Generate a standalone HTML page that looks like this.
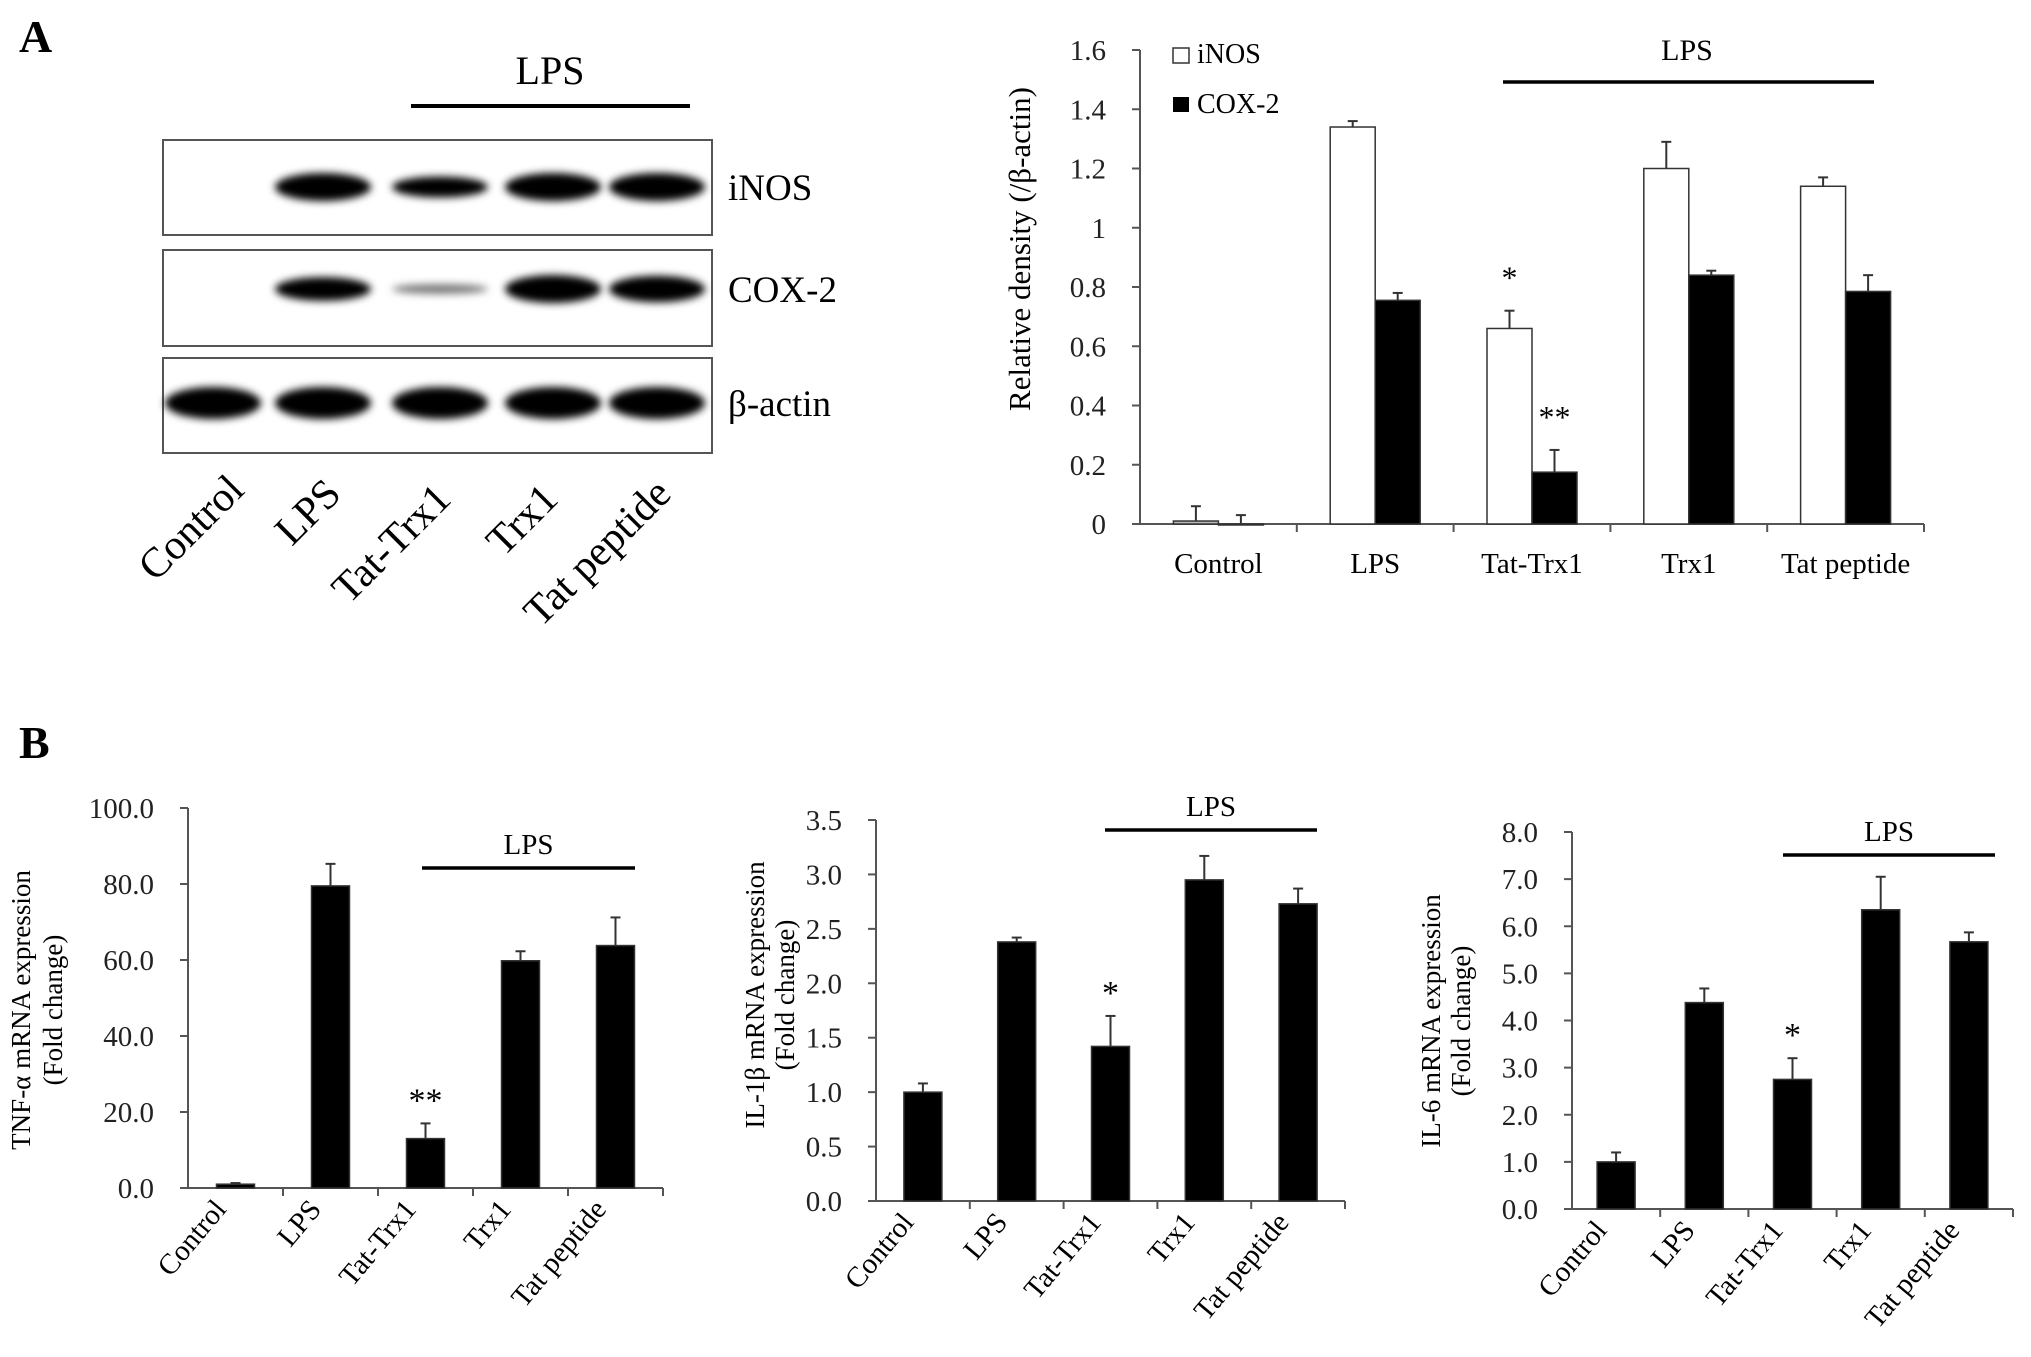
<!DOCTYPE html>
<html><head><meta charset="utf-8"><style>
html,body{margin:0;padding:0;background:#fff;}
svg{display:block;font-family:"Liberation Serif",serif;}
</style></head><body>
<svg id="fig" width="2031" height="1357" viewBox="0 0 2031 1357" xmlns="http://www.w3.org/2000/svg">
<defs>
<filter id="blur" x="-30%" y="-80%" width="160%" height="260%"><feGaussianBlur stdDeviation="4"/></filter>
</defs>
<text x="19" y="52" font-size="46" font-weight="bold">A</text>
<text x="19" y="758" font-size="46" font-weight="bold">B</text>
<g id="blot"></g>
<g id="chartA"></g>
<g id="chartTNF"></g>
<g id="chartIL1"></g>
<g id="chartIL6"></g>
</svg>
<script>
const categories = ["Control","LPS","Tat-Trx1","Trx1","Tat peptide"];
const inosValues = [0.01,1.34,0.66,1.2,1.14];
const inosErrors = [0.05,0.02,0.06,0.09,0.03];
const coxValues = [0.0,0.755,0.175,0.84,0.785];
const coxErrors = [0.03,0.025,0.075,0.015,0.055];
const aTicks = ["0","0.2","0.4","0.6","0.8","1","1.2","1.4","1.6"];
const tnfValues = [1.0,79.5,13,59.8,63.8];
const tnfErrors = [0.3,5.8,4,2.5,7.4];
const tnfTicks = ["0.0","20.0","40.0","60.0","80.0","100.0"];
const il1Values = [1.0,2.38,1.42,2.95,2.73];
const il1Errors = [0.08,0.04,0.28,0.22,0.14];
const il1Ticks = ["0.0","0.5","1.0","1.5","2.0","2.5","3.0","3.5"];
const il6Values = [1.0,4.38,2.75,6.35,5.67];
const il6Errors = [0.2,0.3,0.45,0.7,0.2];
const il6Ticks = ["0.0","1.0","2.0","3.0","4.0","5.0","6.0","7.0","8.0"];
const inosBands = [0,1,0.75,1,1];
const coxBands = [0,0.85,0.35,1,0.95];
const actinBands = [1,1,1,1,1];

const NS="http://www.w3.org/2000/svg";
function mk(parent,tag,attrs,text){const e=document.createElementNS(NS,tag);for(const k in attrs)e.setAttribute(k,attrs[k]);if(text!==undefined)e.textContent=text;parent.appendChild(e);return e;}

(function(){
 const g=document.getElementById('blot');
 const lanes=[213,323,440,553,657];
 const boxes=[[140,235,187,inosBands,'iNOS'],[250,346,289,coxBands,'COX-2'],[358,453,403,actinBands,'β-actin']];
 boxes.forEach((b,bi)=>{
  const r=mk(g,'rect',{x:163,y:b[0],width:549,height:b[1]-b[0],fill:'#fff',stroke:'#555','stroke-width':2});
  
  
  b[3].forEach((v,i)=>{
   if(v<=0)return;
   const e=mk(g,'ellipse',{cx:lanes[i],cy:b[2],rx:48,ry:14*v+(bi==2?2:0),fill:v<0.5?'#777':'#000',filter:'url(#blur)'});
   
   
  });
  const t=mk(g,'text',{x:728,y:b[2]+13,'font-size':37},b[4]);
  
  
 });
 const l=mk(g,'line',{x1:411,y1:106,x2:690,y2:106,stroke:'#000','stroke-width':4});
 
 
 const lt=mk(g,'text',{x:550,y:84,'font-size':40,'text-anchor':'middle'},'LPS');
 
 
 const ends=[[246,492],[343,496],[453,501],[560,501],[673,496]];
 categories.forEach((c,i)=>{
  const t=mk(g,'text',{x:ends[i][0],y:ends[i][1],'font-size':42,'text-anchor':'end',transform:`rotate(-45 ${ends[i][0]} ${ends[i][1]})`},c);
  
  
 });
})();

function drawAxes(g,o){
 const ys=v=>o.y0-(v/o.max)*(o.y0-o.yTop);
 const ax=mk(g,'line',{x1:o.x0,y1:o.yTop,x2:o.x0,y2:o.y0,stroke:'#555','stroke-width':2});
 
 
 const bx=mk(g,'line',{x1:o.x0,y1:o.y0,x2:o.x1,y2:o.y0,stroke:'#555','stroke-width':2});
 
 
 const n=o.ticks.length-1;
 o.ticks.forEach((t,i)=>{
  const v=o.max*i/n, y=ys(v);
  mk(g,'line',{x1:o.x0-8,y1:y,x2:o.x0,y2:y,stroke:'#555','stroke-width':2});
  const tx=mk(g,'text',{x:o.x0-34,y:y+10,'font-size':o.fs,'text-anchor':'end',fill:'#222'},t);
  
  
 });
 const gw=(o.x1-o.x0)/categories.length;
 for(let i=1;i<=categories.length;i++){mk(g,'line',{x1:o.x0+gw*i,y1:o.y0,x2:o.x0+gw*i,y2:o.y0+8,stroke:'#555','stroke-width':2});}
 return {ys,gw};
}
function bar(g,x,w,y0,yv,fill,name){
 const r=mk(g,'rect',{x:x,y:Math.min(yv,y0),width:w,height:Math.max(Math.abs(y0-yv),1),fill:fill,stroke:'#333','stroke-width':1.5});
 
 
}
function err(g,cx,yv,ye){
 mk(g,'line',{x1:cx,y1:yv,x2:cx,y2:ye,stroke:'#333','stroke-width':2});
 mk(g,'line',{x1:cx-5,y1:ye,x2:cx+5,y2:ye,stroke:'#333','stroke-width':2});
}

(function(){
 const g=document.getElementById('chartA');
 const o={x0:1140,x1:1924,y0:524,yTop:50,max:1.6,ticks:aTicks,fs:29};
 const {ys,gw}=drawAxes(g,o);
 const bw=45;
 categories.forEach((c,i)=>{
  const cx=o.x0+gw*(i+0.5);
  const ctrl=i===0;
  bar(g,cx-bw,bw,o.y0,ys(inosValues[i]),ctrl?'#bbb':'#fff','bar-inos');
  err(g,cx-bw/2,ys(inosValues[i]),ys(inosValues[i]+inosErrors[i]));
  bar(g,cx,bw,o.y0,ys(coxValues[i]),ctrl?'#bbb':'#000','bar-cox2');
  err(g,cx+bw/2,ys(coxValues[i]),ys(coxValues[i]+coxErrors[i]));
  const t=mk(g,'text',{x:cx,y:573,'font-size':29,'text-anchor':'middle'},c);
  
  
 });
 const cx2=o.x0+gw*2.5;
 mk(g,'text',{x:cx2-bw/2,y:ys(inosValues[2]+inosErrors[2])-22,'font-size':32,'text-anchor':'middle'},'*');
 mk(g,'text',{x:cx2+bw/2,y:ys(coxValues[2]+coxErrors[2])-22,'font-size':32,'text-anchor':'middle'},'**');
 const yt=mk(g,'text',{x:1030,y:249,'font-size':31,'text-anchor':'middle',transform:'rotate(-90 1030 249)'},'Relative density (/β-actin)');
 
 
 const s1=mk(g,'rect',{x:1173,y:48,width:16,height:15,fill:'#fff',stroke:'#333','stroke-width':1.5});
 
 
 mk(g,'text',{x:1197,y:63,'font-size':28},'iNOS');
 const s2=mk(g,'rect',{x:1173,y:97,width:16,height:15,fill:'#000'});
 
 
 mk(g,'text',{x:1197,y:113,'font-size':28},'COX-2');
 mk(g,'text',{x:1687,y:60,'font-size':30,'text-anchor':'middle'},'LPS');
 mk(g,'line',{x1:1503,y1:82,x2:1874,y2:82,stroke:'#000','stroke-width':3.5});
})();

function chartB(id,o,vals,errs,title,lps,star){
 const g=document.getElementById(id);
 const {ys,gw}=drawAxes(g,o);
 const bw=38;
 categories.forEach((c,i)=>{
  const cx=o.x0+gw*(i+0.5);
  bar(g,cx-bw/2,bw,o.y0,ys(vals[i]),'#000','bar');
  err(g,cx,ys(vals[i]),ys(vals[i]+errs[i]));
  const ex=cx-8, ey=o.y0+22;
  const t=mk(g,'text',{x:ex,y:ey,'font-size':29,'text-anchor':'end',transform:`rotate(-50 ${ex} ${ey})`},c);
  
  
 });
 const cx2=o.x0+gw*2.5;
 mk(g,'text',{x:cx2,y:ys(vals[2]+errs[2])-12,'font-size':34,'text-anchor':'middle'},star);
 const t1=mk(g,'text',{x:title.x1,y:title.cy,'font-size':27,'text-anchor':'middle',transform:`rotate(-90 ${title.x1} ${title.cy})`},title.l1);
 
 
 const t2=mk(g,'text',{x:title.x2,y:title.cy,'font-size':27,'text-anchor':'middle',transform:`rotate(-90 ${title.x2} ${title.cy})`},'(Fold change)');
 
 
 mk(g,'text',{x:(lps[0]+lps[1])/2,y:lps[2]-14,'font-size':29,'text-anchor':'middle'},'LPS');
 mk(g,'line',{x1:lps[0],y1:lps[2],x2:lps[1],y2:lps[2],stroke:'#000','stroke-width':3.5});
}
chartB('chartTNF',{x0:188,x1:663,y0:1188,yTop:808,max:100,ticks:tnfTicks,fs:29},tnfValues,tnfErrors,
 {l1:'TNF-α mRNA expression',x1:30,x2:62,cy:1010},[422,635,868],'**');
chartB('chartIL1',{x0:876,x1:1345,y0:1201,yTop:820,max:3.5,ticks:il1Ticks,fs:29},il1Values,il1Errors,
 {l1:'IL-1β mRNA expression',x1:764,x2:794,cy:995},[1105,1317,830],'*');
chartB('chartIL6',{x0:1572,x1:2013,y0:1209,yTop:832,max:8,ticks:il6Ticks,fs:29},il6Values,il6Errors,
 {l1:'IL-6 mRNA expression',x1:1440,x2:1470,cy:1021},[1783,1995,855],'*');
</script>
</body></html>
